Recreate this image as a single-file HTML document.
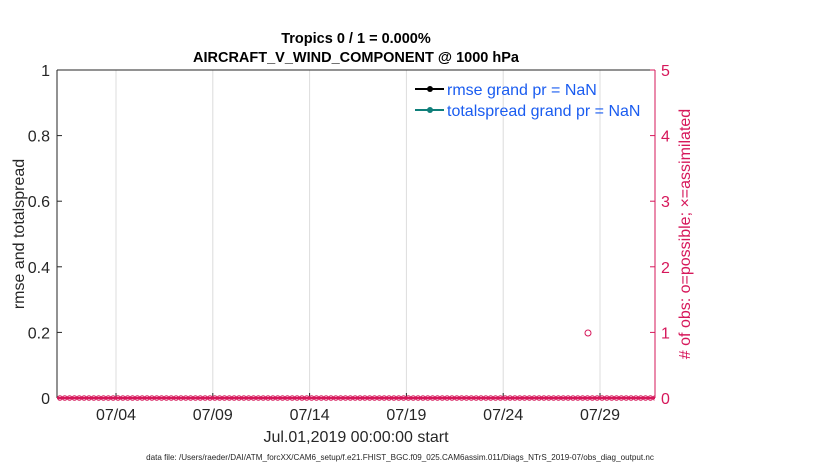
<!DOCTYPE html>
<html><head><meta charset="utf-8"><style>
html,body{margin:0;padding:0;background:#fff;}
svg{display:block;font-family:"Liberation Sans",Arial,sans-serif;}
</style></head><body>
<svg width="830" height="470" viewBox="0 0 830 470" xmlns="http://www.w3.org/2000/svg">
<defs>
<pattern id="mk" x="57.5" y="393" width="4.84" height="10" patternUnits="userSpaceOnUse">
<circle cx="2.42" cy="5" r="2.2" fill="none" stroke="#d6175a" stroke-width="1.2"/>
</pattern>
</defs>
<rect x="57" y="70" width="598" height="328" fill="#fff"/>
<g stroke="#dcdcdc" stroke-width="1">
<line x1="116" y1="70" x2="116" y2="398"/>
<line x1="212.8" y1="70" x2="212.8" y2="398"/>
<line x1="309.6" y1="70" x2="309.6" y2="398"/>
<line x1="406.4" y1="70" x2="406.4" y2="398"/>
<line x1="503.2" y1="70" x2="503.2" y2="398"/>
<line x1="600" y1="70" x2="600" y2="398"/>
</g>
<line x1="57" y1="70" x2="57" y2="398" stroke="#262626" stroke-width="1"/>
<line x1="57" y1="70" x2="655" y2="70" stroke="#262626" stroke-width="1"/>
<line x1="57" y1="398" x2="655" y2="398" stroke="#262626" stroke-width="1"/>
<line x1="655" y1="70" x2="655" y2="398" stroke="#d6175a" stroke-width="1"/>
<g stroke="#262626">
<line x1="57" y1="332.4" x2="62" y2="332.4"/><line x1="57" y1="266.8" x2="62" y2="266.8"/>
<line x1="57" y1="201.2" x2="62" y2="201.2"/><line x1="57" y1="135.6" x2="62" y2="135.6"/>
<line x1="116" y1="398" x2="116" y2="393"/><line x1="212.8" y1="398" x2="212.8" y2="393"/>
<line x1="309.6" y1="398" x2="309.6" y2="393"/><line x1="406.4" y1="398" x2="406.4" y2="393"/>
<line x1="503.2" y1="398" x2="503.2" y2="393"/><line x1="600" y1="398" x2="600" y2="393"/>
</g>
<g stroke="#d6175a">
<line x1="650" y1="332.4" x2="655" y2="332.4"/><line x1="650" y1="266.8" x2="655" y2="266.8"/>
<line x1="650" y1="201.2" x2="655" y2="201.2"/><line x1="650" y1="135.6" x2="655" y2="135.6"/>
<line x1="650" y1="70" x2="655" y2="70"/>
</g>
<g font-size="16" fill="#262626" text-anchor="end">
<text x="50" y="404">0</text><text x="50" y="338.4">0.2</text><text x="50" y="272.8">0.4</text>
<text x="50" y="207.2">0.6</text><text x="50" y="141.6">0.8</text><text x="50" y="76">1</text>
</g>
<g font-size="16" fill="#d6175a">
<text x="661" y="404">0</text><text x="661" y="338.4">1</text><text x="661" y="272.8">2</text>
<text x="661" y="207.2">3</text><text x="661" y="141.6">4</text><text x="661" y="76">5</text>
</g>
<g font-size="16" fill="#262626" text-anchor="middle">
<text x="116" y="420">07/04</text><text x="212.8" y="420">07/09</text><text x="309.6" y="420">07/14</text>
<text x="406.4" y="420">07/19</text><text x="503.2" y="420">07/24</text><text x="600" y="420">07/29</text>
<text x="356" y="442">Jul.01,2019 00:00:00 start</text>
</g>
<text x="24" y="234" font-size="16" fill="#262626" text-anchor="middle" transform="rotate(-90 24 234)">rmse and totalspread</text>
<text x="690" y="234" font-size="16" fill="#d6175a" text-anchor="middle" transform="rotate(-90 690 234)"># of obs: o=possible; ×=assimilated</text>
<g font-size="14.5" font-weight="bold" fill="#000" text-anchor="middle">
<text x="356" y="43">Tropics 0 / 1 = 0.000%</text>
<text x="356" y="62">AIRCRAFT_V_WIND_COMPONENT @ 1000 hPa</text>
</g>
<text x="400" y="460" font-size="8.1" fill="#262626" text-anchor="middle">data file: /Users/raeder/DAI/ATM_forcXX/CAM6_setup/f.e21.FHIST_BGC.f09_025.CAM6assim.011/Diags_NTrS_2019-07/obs_diag_output.nc</text>
<line x1="57" y1="398" x2="655" y2="398" stroke="#d6175a" stroke-width="2"/>
<rect x="57.5" y="394" width="597" height="8" fill="url(#mk)"/>
<circle cx="588" cy="333" r="3" fill="none" stroke="#d6175a" stroke-width="1"/>
<line x1="415" y1="89" x2="444" y2="89" stroke="#000" stroke-width="2"/>
<circle cx="430" cy="89" r="3" fill="#000"/>
<line x1="415" y1="110" x2="444" y2="110" stroke="#0f7f7a" stroke-width="2"/>
<circle cx="430" cy="110" r="3" fill="#0f7f7a"/>
<g font-size="16" fill="#1a5cf0">
<text x="447" y="95">rmse grand pr = NaN</text>
<text x="447" y="116">totalspread grand pr = NaN</text>
</g>
</svg>
</body></html>
